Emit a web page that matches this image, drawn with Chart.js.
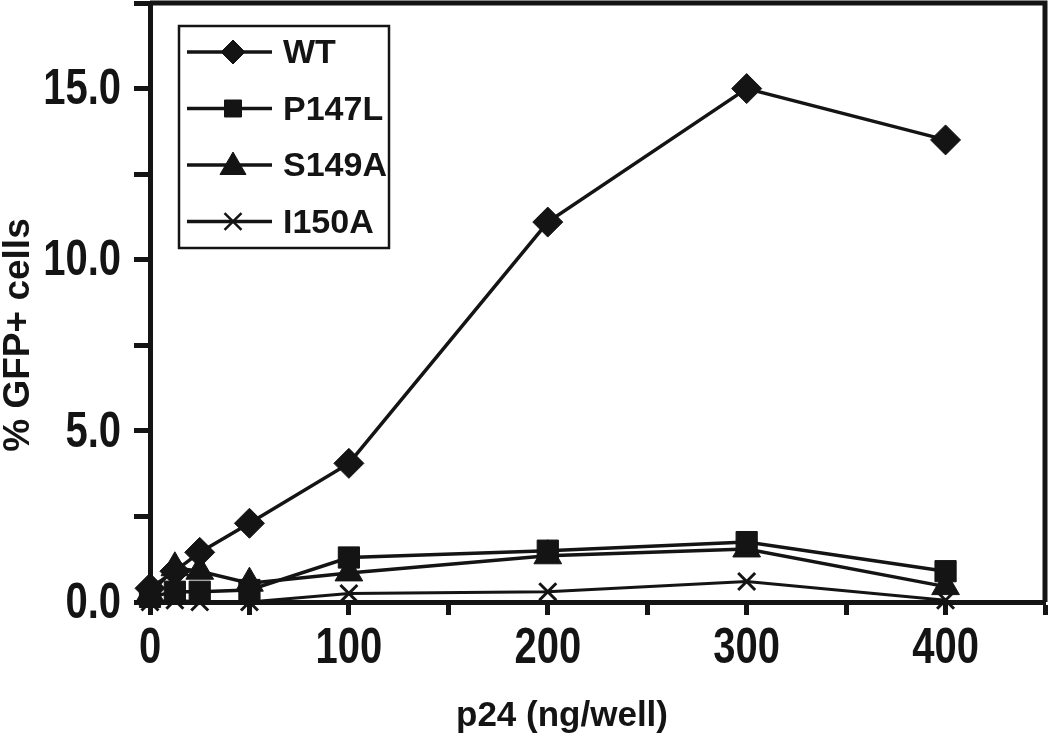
<!DOCTYPE html>
<html>
<head>
<meta charset="utf-8">
<script src="https://cdn.jsdelivr.net/npm/chart.js@4/dist/chart.umd.min.js"></script>
<style>
  body { margin: 0; background: #fff; }
  #wrap { width: 1050px; height: 734px; }
</style>
</head>
<body>
<div id="wrap"><canvas id="gfpChart"></canvas></div>
<script>
// p24 input (ng/well) and % GFP+ cells per mutant
const doses = [0, 12.5, 25, 50, 100, 200, 300, 400];
const wtValues = [0.4, 0.9, 1.45, 2.3, 4.05, 11.1, 15.0, 13.5];
const p147lValues = [0.15, 0.3, 0.3, 0.35, 1.3, 1.5, 1.75, 0.9];
const s149aValues = [0.25, 1.0, 0.9, 0.55, 0.85, 1.35, 1.55, 0.45];
const i150aValues = [0.0, 0.05, 0.0, 0.0, 0.25, 0.3, 0.6, 0.05];
const seriesLabels = ["WT", "P147L", "S149A", "I150A"];
const yTickLabels = [0, 5, 10, 15];
const xTickLabels = [0, 100, 200, 300, 400];

const INK = "#141414";
const SANS = "'Liberation Sans', Arial, sans-serif";

function toPoints(values) {
  return doses.map((x, i) => ({ x, y: values[i] }));
}

function series(label, values, style, radius, lineWidth) {
  return {
    label,
    data: toPoints(values),
    borderColor: INK,
    backgroundColor: INK,
    borderWidth: lineWidth,
    pointStyle: style,
    pointRadius: radius,
    pointBorderWidth: style === "crossRot" ? 3 : 1,
    pointBackgroundColor: INK,
    pointBorderColor: INK,
    tension: 0,
    clip: false
  };
}

// tick labels in the figure are a condensed bold face, so squeeze them
function squeezedText(ctx, text, x, y, squeeze) {
  ctx.save();
  ctx.translate(x, y);
  ctx.scale(squeeze, 1);
  ctx.fillText(text, 0, 0);
  ctx.restore();
}

// tick labels, axis titles, top/right frame and the boxed legend (line + marker)
const decor = {
  id: "decor",
  afterDraw(chart) {
    const { ctx, chartArea } = chart;
    const xs = chart.scales.x, ys = chart.scales.y;
    ctx.save();
    ctx.strokeStyle = INK;
    ctx.fillStyle = INK;

    ctx.lineWidth = 5;
    ctx.beginPath();
    ctx.moveTo(chartArea.left, chartArea.top);
    ctx.lineTo(chartArea.right, chartArea.top);
    ctx.lineTo(chartArea.right, chartArea.bottom);
    ctx.stroke();

    ctx.font = "bold 50px " + SANS;
    ctx.textAlign = "center";
    ctx.textBaseline = "middle";
    xs.ticks.forEach(t => {
      if (xTickLabels.includes(t.value)) {
        squeezedText(ctx, String(t.value), xs.getPixelForValue(t.value), 649, 0.8);
      }
    });
    ctx.textAlign = "right";
    ys.ticks.forEach(t => {
      if (yTickLabels.includes(t.value)) {
        squeezedText(ctx, t.value.toFixed(1), 121, ys.getPixelForValue(t.value) + 2, 0.8);
      }
    });

    ctx.textAlign = "center";
    ctx.font = "bold 35px " + SANS;
    ctx.fillText("p24 (ng/well)", 562, 716);

    ctx.save();
    ctx.translate(19, 335);
    ctx.rotate(-Math.PI / 2);
    ctx.font = "bold 37px " + SANS;
    ctx.fillText("% GFP+ cells", 0, 0);
    ctx.restore();

    // legend box
    ctx.fillStyle = "#fff";
    ctx.fillRect(179, 26, 210, 222);
    ctx.fillStyle = INK;
    ctx.lineWidth = 2.5;
    ctx.strokeRect(179, 26, 210, 222);

    ctx.font = "bold 34px " + SANS;
    ctx.textAlign = "left";
    chart.data.datasets.forEach((ds, i) => {
      const y = 52 + i * 56.5;
      ctx.lineWidth = 3.5;
      ctx.beginPath();
      ctx.moveTo(187, y);
      ctx.lineTo(272, y);
      ctx.stroke();
      ctx.lineWidth = ds.pointStyle === "crossRot" ? 2.5 : 1;
      Chart.helpers.drawPoint(ctx, {
        pointStyle: ds.pointStyle,
        radius: ds.pointStyle === "triangle" ? 15 : 12,
        borderWidth: ctx.lineWidth,
        rotation: 0
      }, 233, ds.pointStyle === "triangle" ? y + 2 : y);
      ctx.fillText(ds.label, 283, y + 2);
    });
    ctx.restore();
  }
};

new Chart(document.getElementById("gfpChart"), {
  type: "line",
  data: {
    datasets: [
      series(seriesLabels[0], wtValues, "rectRot", 15, 3.5),
      series(seriesLabels[1], p147lValues, "rect", 15, 3.5),
      series(seriesLabels[2], s149aValues, "triangle", 16, 3.5),
      series(seriesLabels[3], i150aValues, "crossRot", 12, 3)
    ]
  },
  options: {
    responsive: true,
    maintainAspectRatio: false,
    animation: false,
    layout: { autoPadding: false, padding: { top: 3, right: 5, left: 0, bottom: 0 } },
    plugins: {
      legend: { display: false },
      tooltip: { enabled: false }
    },
    scales: {
      x: {
        type: "linear",
        min: 0,
        max: 450,
        afterFit: s => { s.height = 132; },
        ticks: { stepSize: 50, display: false, autoSkip: false },
        grid: { drawOnChartArea: false, tickLength: 13, tickWidth: 5, tickColor: INK, color: INK },
        border: { display: true, width: 5, color: INK }
      },
      y: {
        min: 0,
        max: 17.5,
        afterFit: s => { s.width = 150; },
        ticks: { stepSize: 2.5, display: false, autoSkip: false },
        grid: { drawOnChartArea: false, tickLength: 16, tickWidth: 5, tickColor: INK, color: INK },
        border: { display: true, width: 5, color: INK }
      }
    }
  },
  plugins: [decor]
});
</script>
</body>
</html>
